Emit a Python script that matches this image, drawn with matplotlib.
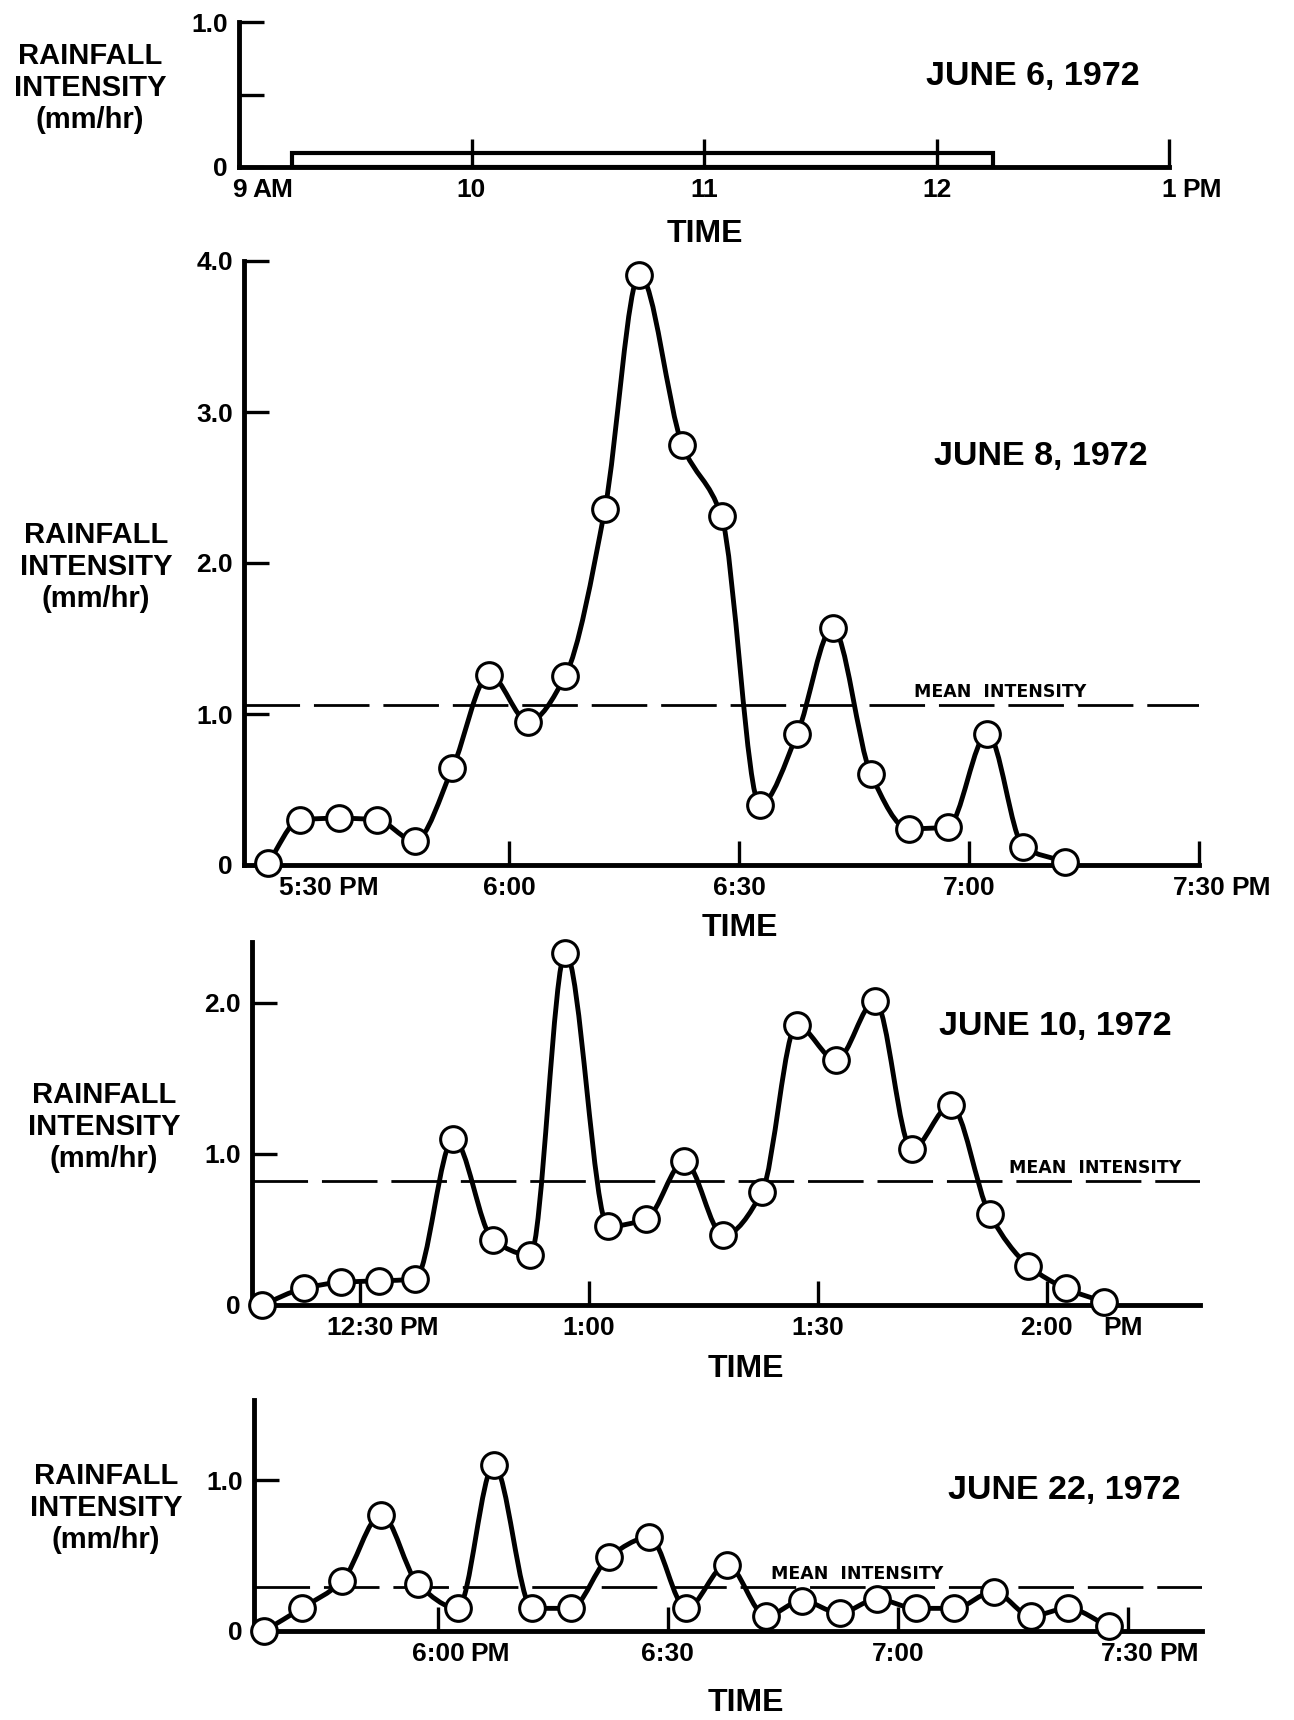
import numpy as np
import matplotlib
matplotlib.use("Agg")
import matplotlib.pyplot as plt
from matplotlib.path import Path
from matplotlib.patches import PathPatch

# June 6: one block of rain, hours of the day
jun6_start = 9.23
jun6_end = 12.245
jun6_value = 0.10

# June 8: minutes after 5:00 PM
jun8_t = [28.5, 32.7, 37.8, 42.7, 47.7, 52.6, 57.4, 62.5, 67.3, 72.5, 77.0,
          82.6, 87.7, 92.7, 97.6, 102.2, 107.2, 112.1, 117.2, 122.4, 127.1, 132.5]
jun8_r = [0.01, 0.30, 0.31, 0.30, 0.16, 0.64, 1.26, 0.95, 1.25, 2.36, 3.91,
          2.78, 2.31, 0.40, 0.87, 1.57, 0.60, 0.24, 0.25, 0.87, 0.12, 0.02]
jun8_mean = 1.06

# June 10: minutes after 12:00
jun10_t = [17.1, 22.6, 27.5, 32.4, 37.2, 42.2, 47.4, 52.3, 56.9, 62.5, 67.5, 72.5,
           77.6, 82.7, 87.2, 92.4, 97.5, 102.3, 107.4, 112.5, 117.6, 122.5, 127.5]
jun10_r = [0.00, 0.11, 0.15, 0.16, 0.17, 1.10, 0.43, 0.33, 2.33, 0.52, 0.57, 0.95,
           0.46, 0.75, 1.85, 1.62, 2.01, 1.03, 1.32, 0.60, 0.26, 0.11, 0.02]
jun10_mean = 0.82

# June 22: minutes after 5:00 PM
jun22_t = [37.3, 42.2, 47.5, 52.6, 57.4, 62.6, 67.3, 72.3, 77.3, 82.3, 87.6, 92.4,
           97.7, 102.8, 107.5, 112.4, 117.3, 122.4, 127.4, 132.5, 137.4, 142.2, 147.5]
jun22_r = [0.00, 0.15, 0.33, 0.77, 0.31, 0.15, 1.10, 0.15, 0.15, 0.49, 0.62, 0.15,
           0.44, 0.10, 0.20, 0.12, 0.21, 0.15, 0.15, 0.26, 0.10, 0.15, 0.03]
jun22_mean = 0.29

plt.rcParams['font.family'] = ['Liberation Sans', 'DejaVu Sans']
plt.rcParams['font.weight'] = 'bold'

W, H = 1294, 1720
TICK_FS = 19
fig = plt.figure(figsize=(W / 100, H / 100), dpi=100)
fig.patch.set_facecolor('white')

YLAB = "RAINFALL\nINTENSITY\n(mm/hr)"


def px_axes(l, r, t, b):
    return fig.add_axes([l / W, 1 - b / H, (r - l) / W, (b - t) / H])


def ftext(x, y, s, **kw):
    fig.text(x / W, 1 - y / H, s, ha='center', va='center', **kw)


def setup(ax, xlim, ylim, xticks, xlabels, yticks, ylabels):
    ax.set_xlim(xlim)
    ax.set_ylim(ylim)
    ax.spines['top'].set_visible(False)
    ax.spines['right'].set_visible(False)
    for s in ('left', 'bottom'):
        ax.spines[s].set_linewidth(3.5)
        ax.spines[s].set_capstyle('projecting')
    ax.set_xticks(xticks, xlabels)
    ax.set_yticks(yticks, ylabels)
    ax.tick_params(direction='in', width=2.4, labelsize=TICK_FS)
    ax.tick_params(axis='x', length=17, pad=8)
    ax.tick_params(axis='y', length=18, pad=8)
    ax.patch.set_alpha(0)


def suffix(ax, idx, s, gap=4):
    lab = ax.xaxis.get_major_ticks()[idx].label1
    ax.annotate(s, xy=(1, 0), xycoords=lab, xytext=(gap, 0),
                textcoords='offset points', ha='left', va='bottom',
                fontsize=TICK_FS)


def smooth_path(x, y):
    # monotone cubic (pchip-like) through the points, drawn as bezier segments
    x = np.asarray(x, float)
    y = np.asarray(y, float)
    h = np.diff(x)
    d = np.diff(y) / h
    m = np.zeros_like(y)
    m[0], m[-1] = d[0], d[-1]
    for k in range(1, len(y) - 1):
        if d[k - 1] * d[k] > 0:
            w1 = 2 * h[k] + h[k - 1]
            w2 = h[k] + 2 * h[k - 1]
            m[k] = (w1 + w2) / (w1 / d[k - 1] + w2 / d[k])
    verts = [(x[0], y[0])]
    codes = [Path.MOVETO]
    for k in range(len(y) - 1):
        verts += [(x[k] + h[k] / 3, y[k] + m[k] * h[k] / 3),
                  (x[k + 1] - h[k] / 3, y[k + 1] - m[k + 1] * h[k] / 3),
                  (x[k + 1], y[k + 1])]
        codes += [Path.CURVE4] * 3
    return Path(verts, codes)


def storm(ax, t, r, mean, mean_x):
    ax.add_patch(PathPatch(smooth_path(t, r), fill=False, lw=3.5, ec='k',
                           clip_on=False, joinstyle='round', zorder=3))
    ax.plot(t, r, 'o', ms=18.5, mfc='white', mec='k', mew=2.2,
            clip_on=False, zorder=5)
    ax.axhline(mean, color='k', lw=2.0, dashes=(20, 5), zorder=2)
    ax.annotate("MEAN  INTENSITY", xy=(mean_x, mean), xytext=(0, 3),
                textcoords='offset points', ha='center', va='bottom',
                fontsize=12.5, family='DejaVu Sans', fontweight='bold')


# --- June 6 ---
ax1 = px_axes(239, 1169, 22, 167)
ax1.bar([jun6_start], [jun6_value], width=[jun6_end - jun6_start], align='edge',
        fill=False, edgecolor='k', lw=3)
setup(ax1, (9, 13), (0, 1.0), [9, 10, 11, 12, 13], ["9", "10", "11", "12", "1"],
      [0, 0.5, 1.0], ["0", "", "1.0"])
ax1.tick_params(axis='x', length=20)
suffix(ax1, 0, "AM")
suffix(ax1, 4, "PM")
ftext(90, 88, YLAB, fontsize=21, linespacing=1.2)
ftext(1033, 77, "JUNE 6, 1972", fontsize=24.5)
ftext(705, 234, "TIME", fontsize=23)

# --- June 8 ---
ax2 = px_axes(244, 1199, 261, 865)
storm(ax2, jun8_t, jun8_r, jun8_mean, 124)
setup(ax2, (25.4, 150), (0, 4.0), [30, 60, 90, 120, 150],
      ["5:30 PM", "6:00", "6:30", "7:00", "7:30"],
      [0, 1, 2, 3, 4], ["0", "1.0", "2.0", "3.0", "4.0"])
t0 = ax2.xaxis.get_major_ticks()[0]
t0.label1.set_horizontalalignment('left')
t0.tick1line.set_visible(False)
suffix(ax2, 4, "PM")
ftext(96, 567, YLAB, fontsize=21, linespacing=1.2)
ftext(1041, 456, "JUNE 8, 1972", fontsize=24.5)
ftext(740, 928, "TIME", fontsize=23)

# --- June 10 ---
ax3 = px_axes(252, 1200, 942, 1305)
storm(ax3, jun10_t, jun10_r, jun10_mean, 126.3)
setup(ax3, (15.8, 140.1), (0, 2.40), [30, 60, 90, 120],
      ["12:30", "1:00", "1:30", "2:00"],
      [0, 1, 2], ["0", "1.0", "2.0"])
suffix(ax3, 0, "PM")
suffix(ax3, 3, "PM", gap=22)
ftext(104, 1127, YLAB, fontsize=21, linespacing=1.2)
ftext(1055, 1027, "JUNE 10, 1972", fontsize=24.5)
ftext(746, 1369, "TIME", fontsize=23)

# --- June 22 ---
ax4 = px_axes(254, 1202, 1400, 1631)
storm(ax4, jun22_t, jun22_r, jun22_mean, 114.7)
setup(ax4, (36.0, 159.7), (0, 1.53), [60, 90, 120, 150],
      ["6:00", "6:30", "7:00", "7:30"],
      [0, 1], ["0", "1.0"])
suffix(ax4, 0, "PM")
suffix(ax4, 3, "PM")
ftext(106, 1508, YLAB, fontsize=21, linespacing=1.2)
ftext(1064, 1491, "JUNE 22, 1972", fontsize=24.5)
ftext(746, 1703, "TIME", fontsize=23)

fig.savefig("out.png", dpi=100)
